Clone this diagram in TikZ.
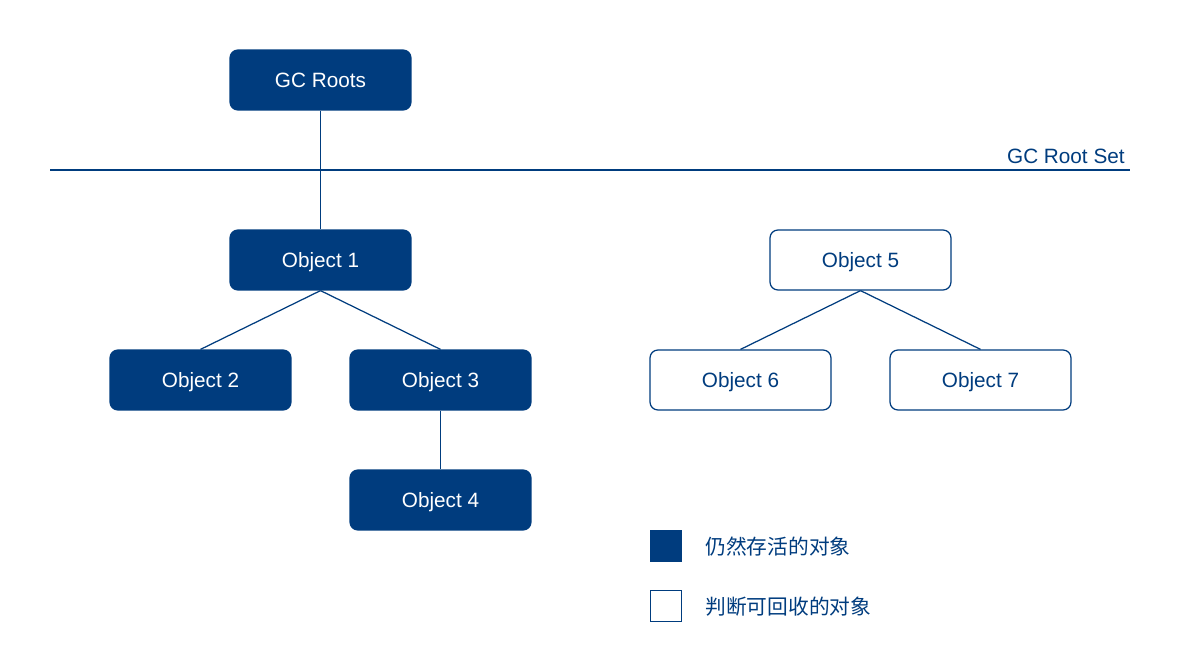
\documentclass[tikz,border=0pt]{standalone}
\usepackage{fontspec}
\setmainfont{Liberation Sans}
\newfontfamily\cjk{Noto Sans CJK SC}
\definecolor{gcblue}{HTML}{003C7E}
\tikzset{
  alive/.style={draw=gcblue, fill=gcblue, text=white, rounded corners=4.5pt, line width=0.7pt,
    minimum width=3.62cm, minimum height=1.2cm, inner sep=0pt, text height=8.4pt, text depth=0pt},
  dead/.style={draw=gcblue, fill=white, text=gcblue, rounded corners=4.5pt, line width=0.7pt,
    minimum width=3.62cm, minimum height=1.2cm, inner sep=0pt, text height=8.4pt, text depth=0pt},
  link/.style={gcblue, line width=0.7pt},
  legendbox/.style={draw=gcblue, line width=0.7pt, minimum size=0.62cm, inner sep=0pt}
}
\begin{document}
\begin{tikzpicture}[x=0.02cm, y=-0.02cm, font=\fontsize{11.8}{14}\selectfont]
\useasboundingbox (0,0) rectangle (1189,672);
%根集合
\node[alive] (roots) at (320.5,80) {GC Roots};
\coordinate (setl) at (50,170);
\coordinate (setr) at (1130,170);
\draw[link] (setl) -- (setr);
\node[text=gcblue, anchor=south east, inner sep=0pt] (setlabel) at (1125,164) {GC Root Set};
%可达对象
\node[alive] (o1) at (320.5,260) {Object 1};
\node[alive] (o2) at (200.5,380) {Object 2};
\node[alive] (o3) at (440.5,380) {Object 3};
\node[alive] (o4) at (440.5,500) {Object 4};
%不可达对象
\node[dead] (o5) at (860.5,260) {Object 5};
\node[dead] (o6) at (740.5,380) {Object 6};
\node[dead] (o7) at (980.5,380) {Object 7};
%引用关系
\draw[link] (roots.south) -- (o1.north);
\draw[link] (o1.south) -- (o2.north);
\draw[link] (o1.south) -- (o3.north);
\draw[link] (o3.south) -- (o4.north);
\draw[link] (o5.south) -- (o6.north);
\draw[link] (o5.south) -- (o7.north);
%图例
\node[legendbox, fill=gcblue] (keyalive) at (666,546) {};
\node[legendbox, fill=white] (keydead) at (666,606) {};
\node[text=gcblue, anchor=west, inner sep=0pt] (txtalive) at (705,547) {\cjk 仍然存活的对象};
\node[text=gcblue, anchor=west, inner sep=0pt] (txtdead) at (705,607) {\cjk 判断可回收的对象};
\end{tikzpicture}
\end{document}
